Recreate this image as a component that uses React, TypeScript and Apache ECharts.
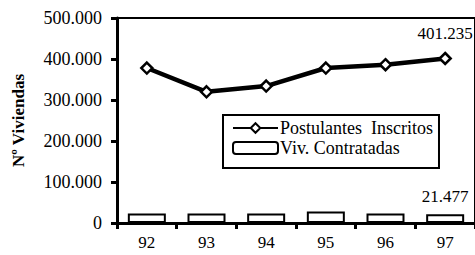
import React, { useEffect, useRef } from "react";
import * as echarts from "echarts";

const years = ["92", "93", "94", "95", "96", "97"];
const postulantes = [378000, 320000, 334000, 378000, 386000, 401235];
const contratadas = [23000, 23000, 23000, 28000, 23000, 21477];
const yTicks = [0, 100000, 200000, 300000, 400000, 500000];

const FONT = "Liberation Serif";

function fmt(v: number): string {
  if (v === 0) return "0";
  const s = String(Math.round(v));
  return s.replace(/\B(?=(\d{3})+(?!\d))/g, ".");
}

export default function App() {
  const ref = useRef<HTMLDivElement>(null);
  useEffect(() => {
    if (!ref.current) return;
    const chart = echarts.init(ref.current, undefined, { renderer: "svg" });
    const last = years.length - 1;
    chart.setOption({
      animation: false,
      textStyle: { fontFamily: FONT },
      grid: { left: 117, right: -2, top: 18, bottom: 32, show: true, borderColor: "#000", borderWidth: 2 },
      legend: {
        orient: "vertical",
        left: 223,
        top: 115,
        backgroundColor: "#fff",
        borderColor: "#000",
        borderWidth: 2,
        borderRadius: 0,
        padding: [4, 6, 11, 9],
        itemGap: 2,
        itemWidth: 45,
        itemHeight: 12,
        textStyle: { fontFamily: FONT, fontSize: 18, lineHeight: 18, color: "#000", padding: [0, 0, 0, -3] },
        data: [
          { name: "Postulantes  Inscritos", itemStyle: { borderWidth: 2 } },
          { name: "Viv. Contratadas", itemStyle: { color: "#fff", borderColor: "#000", borderWidth: 2 } },
        ],
      },
      xAxis: {
        type: "category",
        data: years,
        axisLine: { lineStyle: { color: "#000", width: 3 } },
        axisTick: { show: true, length: 6, lineStyle: { color: "#000", width: 3 } },
        axisLabel: { fontFamily: FONT, fontSize: 17, color: "#000", margin: 11 },
        splitLine: { show: false },
      },
      yAxis: {
        type: "value",
        min: 0,
        max: 500000,
        interval: 100000,
        name: "Nº Viviendas",
        nameLocation: "middle",
        nameGap: 90,
        nameTextStyle: { fontFamily: FONT, fontSize: 17, fontWeight: "bold", color: "#000" },
        axisLine: { show: true, lineStyle: { color: "#000", width: 3 } },
        axisTick: { show: true, length: 6, lineStyle: { color: "#000", width: 3 } },
        axisLabel: {
          fontFamily: FONT,
          fontSize: 18,
          color: "#000",
          margin: 15,
          formatter: (v: number) => (yTicks.includes(v) ? fmt(v) : ""),
        },
        splitLine: { show: false },
      },
      series: [
        {
          name: "Postulantes  Inscritos",
          type: "line",
          data: postulantes.map((v, i) =>
            i === last
              ? {
                  value: v,
                  label: {
                    show: true,
                    position: "top",
                    distance: 10,
                    formatter: () => fmt(v),
                    fontFamily: FONT,
                    fontSize: 17,
                    color: "#000",
                  },
                }
              : v
          ),
          symbol: "diamond",
          symbolSize: 11,
          z: 5,
          lineStyle: { color: "#000", width: 4.5 },
          itemStyle: { color: "#fff", borderColor: "#000", borderWidth: 2.5 },
        },
        {
          name: "Viv. Contratadas",
          type: "bar",
          barWidth: 38,
          data: contratadas.map((v, i) =>
            i === last
              ? {
                  value: v,
                  label: {
                    show: true,
                    position: "top",
                    distance: 9,
                    formatter: () => fmt(v),
                    fontFamily: FONT,
                    fontSize: 17,
                    color: "#000",
                  },
                }
              : v
          ),
          itemStyle: { color: "#fff", borderColor: "#000", borderWidth: 2 },
        },
      ],
    });
    return () => chart.dispose();
  }, []);
  return (
    <div
      ref={ref}
      style={{ position: "fixed", left: 0, top: 0, width: 475, height: 255, background: "#fff" }}
    />
  );
}
